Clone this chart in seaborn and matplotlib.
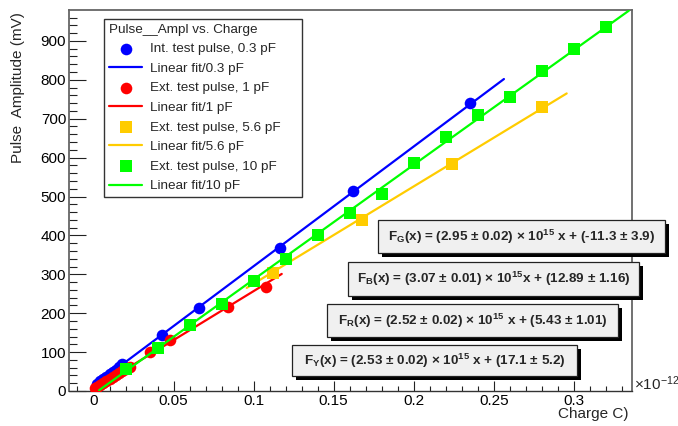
import numpy as np
import pandas as pd
import matplotlib
matplotlib.use("Agg")
import matplotlib.pyplot as plt
from matplotlib.patches import Rectangle
from matplotlib.ticker import FixedLocator, FixedFormatter
import seaborn as sns

# ---------------- data (charge in units of 1e-12 C, amplitude in mV) ----------------
blue_x = [0.002, 0.004, 0.006, 0.008, 0.010, 0.012, 0.014, 0.016, 0.018,
          0.0426, 0.0659, 0.1165, 0.1623, 0.2352]
blue_y = [19, 25, 31, 37, 43, 49, 55, 61, 70, 144, 213, 368, 515, 740]
blue_fit_x = [0.0, 0.2564]
blue_fit_y = [13, 802]

red_x = [0.001, 0.002, 0.004, 0.006, 0.008, 0.010, 0.012, 0.014, 0.016, 0.018,
         0.020, 0.0228, 0.0353, 0.0478, 0.0840, 0.1077]
red_y = [8, 10, 15, 20, 26, 31, 36, 41, 46, 51, 56, 62, 100, 131, 216, 268]
red_fit_x = [0.0, 0.1176]
red_fit_y = [5, 301]

yellow_x = [0.112, 0.168, 0.224, 0.280]
yellow_y = [304, 440, 584, 731]
yellow_fit_x = [0.0957, 0.2956]
yellow_fit_y = [265, 765]

green_x = [0.02, 0.04, 0.06, 0.08, 0.10, 0.12, 0.14, 0.16, 0.18, 0.20,
           0.22, 0.24, 0.26, 0.28, 0.30, 0.32]
green_y = [56, 111, 170, 224, 283, 339, 401, 457, 506, 585, 652, 710, 755, 823, 878, 935]
green_fit_x = [0.0035, 0.3345]
green_fit_y = [2, 978]

labels = ["Int. test pulse, 0.3 pF", "Linear fit/0.3 pF",
          "Ext. test pulse, 1 pF", "Linear fit/1 pF",
          "Ext. test pulse, 5.6 pF", "Linear fit/5.6 pF",
          "Ext. test pulse, 10 pF", "Linear fit/10 pF"]

fit_texts = [r"F$_\mathbf{G}$(x) = (2.95 ± 0.02) × 10$^\mathbf{15}$ x + (-11.3 ± 3.9)",
             r"F$_\mathbf{B}$(x) = (3.07 ± 0.01) × 10$^\mathbf{15}$x + (12.89 ± 1.16)",
             r"F$_\mathbf{R}$(x) = (2.52 ± 0.02) × 10$^\mathbf{15}$ x + (5.43 ± 1.01)",
             r"F$_\mathbf{Y}$(x) = (2.53 ± 0.02) × 10$^\mathbf{15}$ x + (17.1 ± 5.2)"]

xticks = [0, 0.05, 0.1, 0.15, 0.2, 0.25, 0.3]
xtick_labels = ["0", "0.05", "0.1", "0.15", "0.2", "0.25", "0.3"]
yticks = [0, 100, 200, 300, 400, 500, 600, 700, 800, 900]
ytick_labels = [str(v) for v in yticks]

BLUE, RED, YEL, GRN = "#0000ff", "#ff0000", "#ffcc00", "#00ff00"

# ---------------- style ----------------
sns.set_style("white")
plt.rcParams["font.family"] = ["Liberation Sans", "DejaVu Sans"]
plt.rcParams["mathtext.fontset"] = "custom"
plt.rcParams["mathtext.rm"] = "Liberation Sans"
plt.rcParams["mathtext.bf"] = "Liberation Sans:bold"
plt.rcParams["mathtext.it"] = "Liberation Sans:italic"
plt.rcParams["mathtext.sf"] = "Liberation Sans"

W, H = 678, 426
fig = plt.figure(figsize=(W / 100, H / 100), dpi=100)
ax = fig.add_axes([69 / W, (H - 391) / H, (632 - 69) / W, (391 - 10) / H])

series = [
    (blue_x, blue_y, blue_fit_x, blue_fit_y, BLUE, "o"),
    (red_x, red_y, red_fit_x, red_fit_y, RED, "o"),
    (yellow_x, yellow_y, yellow_fit_x, yellow_fit_y, YEL, "s"),
    (green_x, green_y, green_fit_x, green_fit_y, GRN, "s"),
]
z = 2
for i, (px, py, fx, fy, col, mk) in enumerate(series):
    sns.lineplot(x=fx, y=fy, color=col, lw=1.6, ax=ax, sort=False,
                 estimator=None, zorder=z, label=labels[2 * i + 1])
    sns.scatterplot(x=px, y=py, color=col, marker=mk, s=74 if mk == "s" else 70,
                    linewidth=0, ax=ax, zorder=z + 1, label=labels[2 * i])
    z += 2

ax.set_xlim(-0.0153, 0.3364)
ax.set_ylim(0, 979.5)
ax.xaxis.set_major_locator(FixedLocator(xticks))
ax.xaxis.set_major_formatter(FixedFormatter(xtick_labels))
ax.xaxis.set_minor_locator(FixedLocator([v / 100 for v in range(-1, 34)]))
ax.yaxis.set_major_locator(FixedLocator(yticks))
ax.yaxis.set_major_formatter(FixedFormatter(ytick_labels))
ax.yaxis.set_minor_locator(FixedLocator(list(range(0, 980, 20))))
ax.tick_params(axis="both", which="both", direction="in", colors="#222222",
               labelcolor="black", labelsize=11)
ax.tick_params(axis="x", which="major", length=7, width=0.8, pad=2.5, bottom=True, top=False)
ax.tick_params(axis="x", which="minor", length=3.6, width=0.8, bottom=True, top=False)
ax.tick_params(axis="y", which="major", length=12.5, width=0.8, pad=2, left=True, right=False)
ax.tick_params(axis="y", which="minor", length=6, width=0.8, left=True, right=False)
ax.set_xlabel("")
ax.set_ylabel("")
for s in ["top", "right", "left"]:
    ax.spines[s].set_color("#666666")
    ax.spines[s].set_linewidth(1.3)
ax.spines["bottom"].set_color("#333333")
ax.spines["bottom"].set_linewidth(1.0)

# legend in ROOT order
h, l = ax.get_legend_handles_labels()
lut = dict(zip(l, h))
lx0, lx1, ly0, ly1 = 104, 302, 19, 197
ax.legend([lut[t] for t in labels], labels, title="Pulse__Ampl vs. Charge",
          loc="upper left", mode="expand",
          bbox_to_anchor=((lx0 - 69) / 563, (391 - ly1) / 381,
                          (lx1 - lx0) / 563, (ly1 - ly0) / 381),
          borderaxespad=0, fontsize=9.7, title_fontsize=9.7, alignment="left",
          frameon=True, fancybox=False, edgecolor="#333333", framealpha=1,
          borderpad=0.35, labelspacing=0.53, handlelength=2.5, handletextpad=0.6)
ax.get_legend().get_frame().set_linewidth(1.0)

# axis titles
fig.text(18 / W, 1 - 12 / H, "Pulse  Amplitude (mV)", rotation=90, ha="center",
         va="top", fontsize=11)
fig.text(628 / W, 1 - 414 / H, "Charge C)", ha="right", va="center", fontsize=11)
fig.text(634 / W, 1 - 384 / H, r"×10$^{\mathrm{-12}}$", ha="left", va="center", fontsize=11)

# fit-result boxes (pixel geometry: x0, x1, y0, y1)
boxes = [(378, 665, 220, 253), (348, 639, 262, 296), (327, 618, 304, 337), (292, 577, 345, 376)]
for (x0, x1, y0, y1), txt in zip(boxes, fit_texts):
    fig.add_artist(Rectangle(((x0 + 4) / W, 1 - (y1 + 4) / H), (x1 - x0) / W, (y1 - y0) / H,
                             transform=fig.transFigure, facecolor="black", edgecolor="none",
                             zorder=10))
    fig.add_artist(Rectangle((x0 / W, 1 - y1 / H), (x1 - x0) / W, (y1 - y0) / H,
                             transform=fig.transFigure, facecolor="#f0f0f0",
                             edgecolor="#222222", lw=0.9, zorder=11))
    fig.text((x0 + x1) / 2 / W, 1 - (y0 + y1) / 2 / H, txt, ha="center", va="center",
             fontsize=9.7, fontweight="bold", zorder=12)

fig.savefig("out.png", dpi=100)
